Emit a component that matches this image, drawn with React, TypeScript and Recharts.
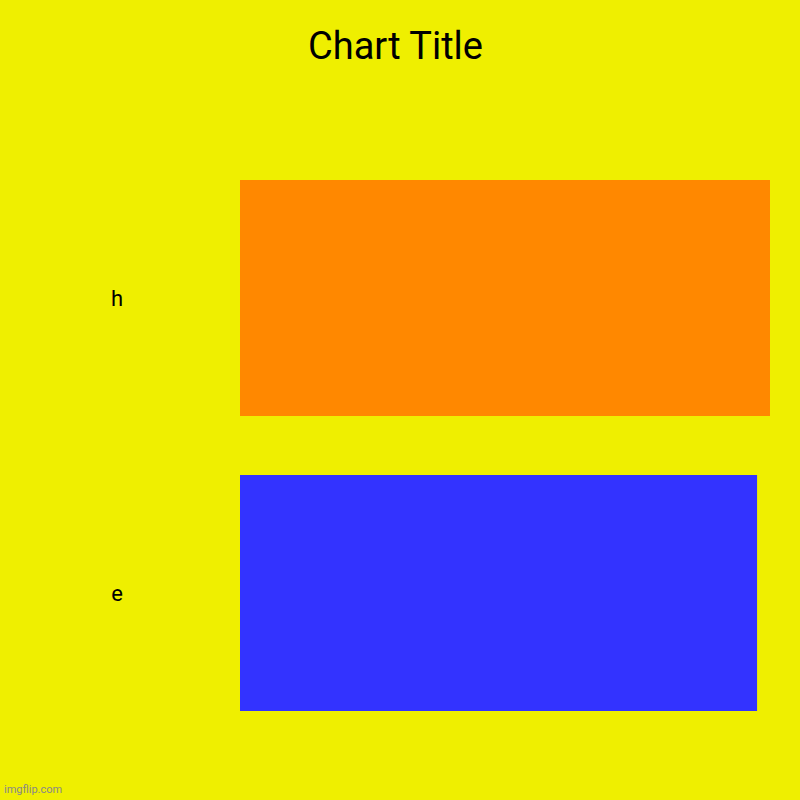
import React from 'react';
import { BarChart, Bar, XAxis, YAxis, Cell } from 'recharts';

const categories = ['h', 'e'];
const values = [41, 40];
const barColors = ['#ff8800', '#3333ff'];

const data = categories.map((name, i) => ({ name, value: values[i] }));

const BG = '#efef00';

const CategoryTick = (props: any) => {
    const { y, payload } = props;
    return (
        <text x={117} y={y} textAnchor="middle" dominantBaseline="central"
            fontFamily="Roboto" fontSize={22} fill="#000">
            {payload.value}
        </text>
    );
};

export default function App() {
    return (
        <div style={{ position: 'relative', width: 800, height: 800, background: BG, fontFamily: 'Roboto' }}>
            <style>{'body{margin:0}'}</style>
            <div style={{
                position: 'absolute', top: 27, left: 0, width: 791, textAlign: 'center',
                fontSize: 38, lineHeight: 1, color: '#000'
            }}>
                Chart Title
            </div>
            <BarChart
                width={800}
                height={800}
                data={data}
                layout="vertical"
                margin={{ top: 150.5, right: 30, bottom: 59.5, left: 0 }}
                barCategoryGap="10%"
            >
                <XAxis type="number" domain={[0, 'dataMax']} hide />
                <YAxis type="category" dataKey="name" width={240}
                    axisLine={false} tickLine={false} tick={<CategoryTick />} />
                <Bar dataKey="value" isAnimationActive={false}>
                    {data.map((d, i) => <Cell key={d.name} fill={barColors[i]} />)}
                </Bar>
            </BarChart>
            <div style={{
                position: 'absolute', left: 4, top: 784, fontSize: 11, lineHeight: 1, color: '#888'
            }}>
                imgflip.com
            </div>
        </div>
    );
}
